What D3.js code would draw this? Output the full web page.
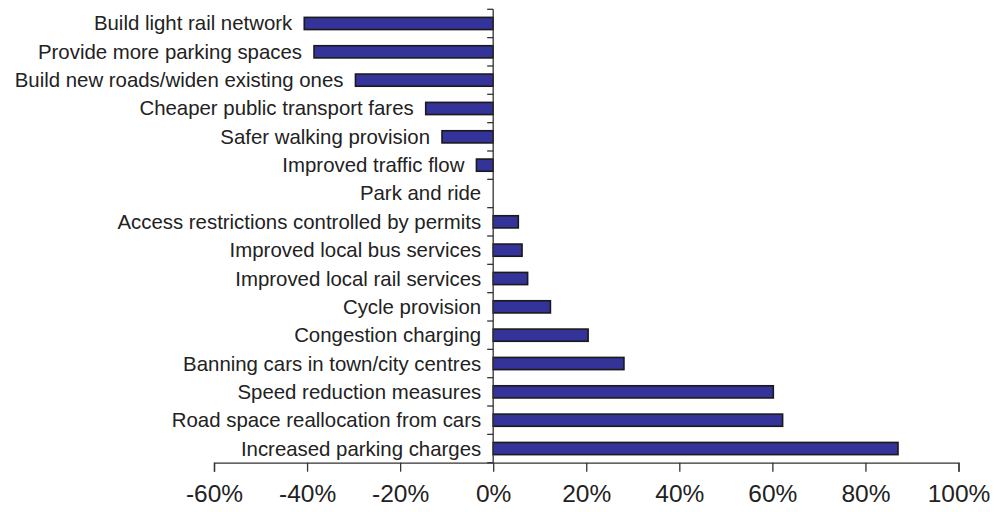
<!DOCTYPE html>
<html>
<head>
<meta charset="utf-8">
<script src="https://cdn.jsdelivr.net/npm/d3@7"></script>
<style>
  body { margin: 0; background: #fff; }
  svg text { font-family: "Liberation Sans", Arial, Helvetica, sans-serif; fill: #222; }
</style>
</head>
<body>
<div id="chart"></div>
<script>
// measures, top to bottom
const measures = [
  "Build light rail network",
  "Provide more parking spaces",
  "Build new roads/widen existing ones",
  "Cheaper public transport fares",
  "Safer walking provision",
  "Improved traffic flow",
  "Park and ride",
  "Access restrictions controlled by permits",
  "Improved local bus services",
  "Improved local rail services",
  "Cycle provision",
  "Congestion charging",
  "Banning cars in town/city centres",
  "Speed reduction measures",
  "Road space reallocation from cars",
  "Increased parking charges"
];
// net support, percent
const netSupport = [-40.6, -38.5, -29.6, -14.5, -11, -3.6, 0, 5.4, 6.2, 7.4, 12.3, 20.4, 28.1, 60.2, 62.2, 87];
const xTicks = [-60, -40, -20, 0, 20, 40, 60, 80, 100];

const width = 998, height = 512;
const margin = { top: 9.3, right: 40, bottom: 49.3, left: 214 };

const svg = d3.select("#chart").append("svg")
  .attr("width", width)
  .attr("height", height);

const x = d3.scaleLinear()
  .domain([-60, 100])
  .range([margin.left, 958.5]);

const y = d3.scaleBand()
  .domain(measures)
  .range([margin.top, height - margin.bottom])
  .paddingInner(0.57)
  .paddingOuter(0.285);

const bandY = d3.scaleBand()
  .domain(measures)
  .range([margin.top, height - margin.bottom]);

const axisY = height - margin.bottom;

// bars
svg.selectAll("rect.bar")
  .data(measures)
  .enter()
  .append("rect")
  .attr("class", "bar")
  .attr("x", (d, i) => x(Math.min(0, netSupport[i])))
  .attr("y", d => y(d))
  .attr("width", (d, i) => Math.abs(x(netSupport[i]) - x(0)))
  .attr("height", y.bandwidth())
  .style("fill", "#333399")
  .style("stroke", "#1a1a1a")
  .style("stroke-width", (d, i) => netSupport[i] === 0 ? 0 : 1.6);

// category labels sit just left of the bar (or the axis)
svg.selectAll("text.cat")
  .data(measures)
  .enter()
  .append("text")
  .attr("class", "cat")
  .attr("x", (d, i) => x(Math.min(0, netSupport[i])) - 12)
  .attr("y", d => bandY(d) + bandY.bandwidth() / 2)
  .attr("text-anchor", "end")
  .attr("dominant-baseline", "central")
  .style("font-size", "20.4px")
  .text(d => d);

// y axis at zero
const yAxisG = svg.append("g").attr("transform", `translate(${x(0)},0)`);
yAxisG.append("line")
  .attr("y1", margin.top).attr("y2", axisY)
  .attr("stroke", "#333").attr("stroke-width", 1.3);
yAxisG.selectAll("line.tick")
  .data(measures.concat(["_end"]))
  .enter()
  .append("line")
  .attr("class", "tick")
  .attr("x1", -6).attr("x2", 0)
  .attr("y1", d => d === "_end" ? axisY : bandY(d))
  .attr("y2", d => d === "_end" ? axisY : bandY(d))
  .attr("stroke", "#333").attr("stroke-width", 1.3);

// x axis
const xAxis = d3.axisBottom(x)
  .tickValues(xTicks)
  .tickSize(9)
  .tickFormat(d => d + "%");

const xg = svg.append("g")
  .attr("transform", `translate(0,${axisY})`)
  .call(xAxis);
xg.select(".domain").attr("stroke", "#333").attr("stroke-width", 1.3);
xg.selectAll(".tick line").attr("stroke", "#333").attr("stroke-width", 1.3);
xg.selectAll(".tick text")
  .attr("y", 31)
  .attr("dy", "0.35em")
  .style("font-size", "24.5px")
  .style("font-family", "'Liberation Sans', Arial, sans-serif")
  .attr("fill", "#222");
</script>
</body>
</html>
